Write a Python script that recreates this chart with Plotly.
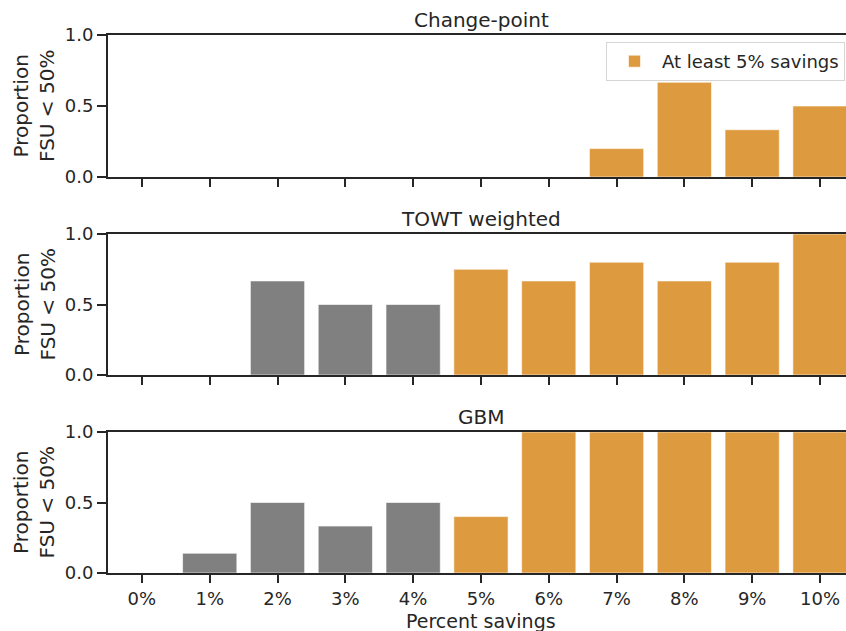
import plotly.graph_objects as go
from plotly.subplots import make_subplots

categories = ["0%", "1%", "2%", "3%", "4%", "5%", "6%", "7%", "8%", "9%", "10%"]
panel_titles = ["Change-point", "TOWT weighted", "GBM"]
change_point = [0, 0, 0, 0, 0, 0, 0, 0.2, 0.667, 0.333, 0.5]
towt_weighted = [0, 0, 0.667, 0.5, 0.5, 0.75, 0.667, 0.8, 0.667, 0.8, 1.0]
gbm = [0, 0.14, 0.5, 0.333, 0.5, 0.4, 1.0, 1.0, 1.0, 1.0, 1.0]
threshold_index = 5  # "At least 5% savings"

series = [change_point, towt_weighted, gbm]

GRAY = "#808080"
ORANGE = "#de9a3f"
INK = "#262626"
FONT = "DejaVu Sans"
TICK_SIZE = 18
LABEL_SIZE = 20

W, H = 846, 631
L, R, T, B = 108, 0, 35, 58
plot_h = H - T - B
base = H - B  # pixel row of the bottom axis line
def py(px):
    # reference pixel row (relative to a bottom line at 574) -> paper coordinate
    return (574 - px) / plot_h

domains = [
    (py(178), 1.0),
    (py(376), py(235)),
    (0.0, py(433)),
]

fig = make_subplots(rows=3, cols=1)

xs = list(range(len(categories)))
for i, vals in enumerate(series):
    row = i + 1
    gx = xs[:threshold_index]
    gy = vals[:threshold_index]
    ox = xs[threshold_index:]
    oy = vals[threshold_index:]
    fig.add_trace(go.Bar(x=gx, y=gy, width=0.8, marker=dict(color=GRAY, line=dict(color="rgba(255,255,255,0.6)", width=1)),
                         showlegend=False, hoverinfo="skip"), row=row, col=1)
    fig.add_trace(go.Bar(x=ox, y=oy, width=0.8, name="At least 5% savings",
                         marker=dict(color=ORANGE, line=dict(color="rgba(255,255,255,0.6)", width=1)),
                         showlegend=(i == 0), hoverinfo="skip"), row=row, col=1)

x_hi = (846 - 142) / ((820 - 142) / 10)
for i in range(3):
    row = i + 1
    fig.update_xaxes(row=row, col=1, range=[-0.5, x_hi], tickmode="array", tickvals=xs,
                     ticktext=categories if row == 3 else [""] * len(xs),
                     showticklabels=(row == 3),
                     ticks="outside", ticklen=8, tickwidth=1.5, tickcolor=INK,
                     showline=True, linecolor=INK, linewidth=2, mirror=True,
                     showgrid=False, zeroline=False,
                     tickfont=dict(family=FONT, size=TICK_SIZE, color=INK))
    fig.update_yaxes(row=row, col=1, range=[0, 1], tickvals=[0, 0.5, 1.0],
                     ticktext=["0.0", "0.5", "1.0"],
                     ticks="outside", ticklen=9, tickwidth=1.5, tickcolor=INK,
                     showline=True, linecolor=INK, linewidth=2, mirror=False,
                     showgrid=False, zeroline=False, domain=list(domains[i]),
                     tickfont=dict(family=FONT, size=TICK_SIZE, color=INK))

annotations = []
cx = (481 - L) / (W - L - R)
for i, t in enumerate(panel_titles):
    annotations.append(dict(text=t, xref="paper", yref="paper", x=cx, y=domains[i][1],
                            xanchor="center", yanchor="bottom", yshift=1, showarrow=False,
                            font=dict(family=FONT, size=LABEL_SIZE, color=INK)))
    annotations.append(dict(text="Proportion<br>FSU &lt; 50%", xref="paper", yref="paper",
                            x=(34 - L) / (W - L - R), y=(domains[i][0] + domains[i][1]) / 2,
                            xanchor="center", yanchor="middle", textangle=-90, showarrow=False,
                            font=dict(family=FONT, size=LABEL_SIZE, color=INK)))
annotations.append(dict(text="Percent savings", xref="paper", yref="paper", x=cx, y=0,
                        xanchor="center", yanchor="top", yshift=-35, showarrow=False,
                        font=dict(family=FONT, size=19, color=INK)))

fig.update_layout(
    width=W, height=H,
    margin=dict(l=L, r=R, t=T, b=B),
    paper_bgcolor="white", plot_bgcolor="white",
    barmode="overlay",
    annotations=annotations,
    legend=dict(x=(845 - L) / (W - L - R), y=py(43), xanchor="right", yanchor="top",
                bgcolor="rgba(255,255,255,0.9)", bordercolor="#d6d6d6", borderwidth=1,
                itemwidth=45,
                font=dict(family=FONT, size=TICK_SIZE, color=INK)),
    font=dict(family=FONT, color=INK),
)

fig.write_html("out.html")
